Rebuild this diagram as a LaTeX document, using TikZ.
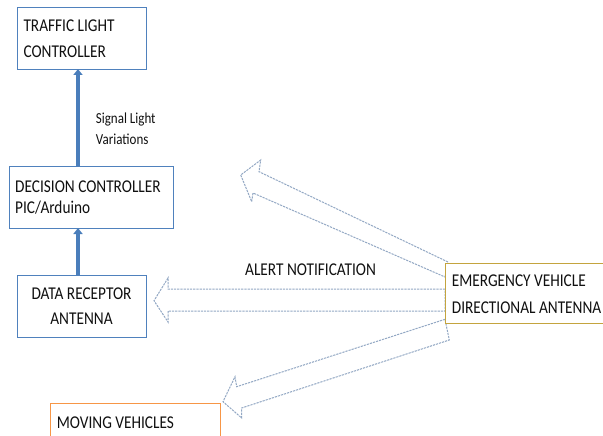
\documentclass[tikz,border=0pt]{standalone}
\usepackage{fontspec}
\setmainfont[FakeStretch=0.85]{Carlito}
\usetikzlibrary{arrows.meta}
\definecolor{boxblue}{HTML}{4F81BD}
\definecolor{arrblue}{HTML}{4A7EBB}
\definecolor{dashblue}{HTML}{93A8C4}
\definecolor{goldb}{HTML}{C4A43E}
\definecolor{orangeb}{HTML}{F79646}
\definecolor{txtcol}{HTML}{101010}
\tikzset{
  bluebox/.style={draw=boxblue, line width=0.9pt, fill=white},
  goldbox/.style={draw=goldb, line width=1pt, fill=white},
  orangebox/.style={draw=orangeb, line width=1pt, fill=white},
  txt/.style={inner sep=0pt, anchor=base west, text=txtcol, font=\fontsize{18}{21}\selectfont},
  txtc/.style={inner sep=0pt, anchor=base, text=txtcol, font=\fontsize{18}{21}\selectfont},
  smalltxt/.style={inner sep=0pt, anchor=base west, text=txtcol, font=\fontsize{15.3}{18}\selectfont},
  blockarrow/.style={draw=dashblue, line width=1pt, dash pattern=on 2.2pt off 1pt, fill=white},
  flowarrow/.style={draw=arrblue, line width=4pt, -{Triangle[length=6pt,width=9pt]}, shorten >=0pt}
}
\begin{document}
\begin{tikzpicture}[x=1pt,y=-1pt]
\useasboundingbox (0,0) rectangle (603,436);
% block arrows
\draw[blockarrow] (445,289) -- (168,289) -- (168,278) -- (154,300.7) -- (168,322) -- (168,311) -- (445,311) -- cycle;
\draw[blockarrow] (448,262) -- (259,171.7) -- (260.7,160) -- (240.7,175) -- (251.7,201.7) -- (253,193) -- (445,277) -- cycle;
\draw[blockarrow] (445,319.3) -- (236.7,386.7) -- (235,376.7) -- (223,401.7) -- (241.7,418) -- (241.7,408) -- (449.3,340) -- cycle;
% boxes
\path[bluebox] (17,7) rectangle (146,69);
\coordinate (tlc) at (78,69);
\path[bluebox] (9,166) rectangle (173,228);
\coordinate (dct) at (78,166);
\coordinate (dcb) at (78,228);
\path[bluebox] (17,275) rectangle (146,337);
\coordinate (drt) at (78,275);
\path[goldbox] (445.5,263.5) rectangle (608,323.5);
\path[orangebox] (50.5,403.5) rectangle (220.5,440);
% flow arrows
\draw[flowarrow] (dct) -- (tlc);
\draw[flowarrow] (drt) -- (dcb);
% texts
\node[txt] (t1) at (23.3,31.7) {TRAFFIC LIGHT};
\node[txt] (t2) at (23.3,57.3) {CONTROLLER};
\node[smalltxt] (s1) at (95.7,123.3) {Signal Light};
\node[smalltxt] (s2) at (95.7,144) {Variations};
\node[txt] (d1) at (15,192) {DECISION CONTROLLER};
\node[txt] (d2) at (15,213) {PIC/Arduino};
\node[txtc] (r1) at (81.5,299) {DATA RECEPTOR};
\node[txtc] (r2) at (81.5,324) {ANTENNA};
\node[txt] (a1) at (245,275) {ALERT NOTIFICATION};
\node[txt] (e1) at (451.7,286.7) {EMERGENCY VEHICLE};
\node[txt] (e2) at (451.7,313.3) {DIRECTIONAL ANTENNA};
\node[txt] (m1) at (56.7,428.3) {MOVING VEHICLES};
\end{tikzpicture}
\end{document}
